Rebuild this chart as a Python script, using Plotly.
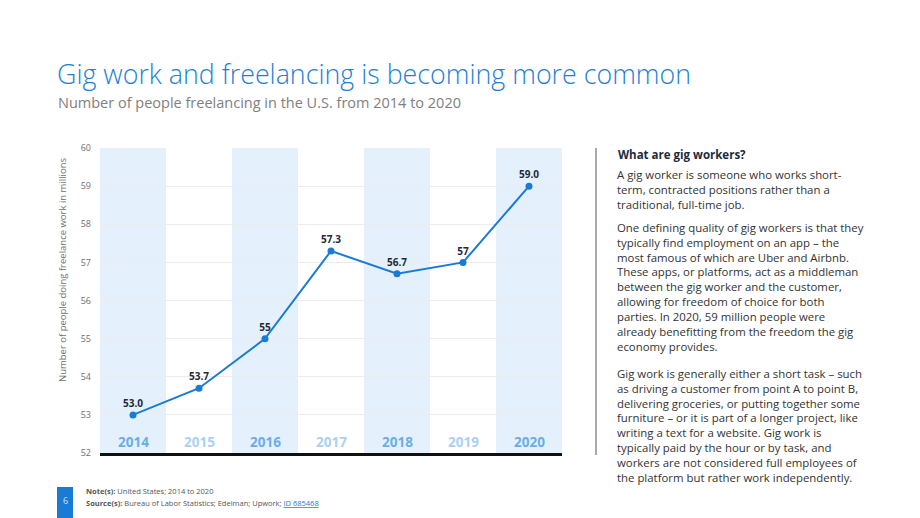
import plotly.graph_objects as go

years = ["2014", "2015", "2016", "2017", "2018", "2019", "2020"]
values = [53.0, 53.7, 55.0, 57.3, 56.7, 57.0, 59.0]
value_labels = ["53.0", "53.7", "55", "57.3", "56.7", "57", "59.0"]
y_ticks = [52, 53, 54, 55, 56, 57, 58, 59, 60]

W, H = 920, 518
def px(x): return x / W
def py(y): return 1 - y / H

FONT = "Open Sans"
BLUE = "#1a7bd5"

fig = go.Figure()
xs = list(range(len(years)))
fig.add_trace(go.Scatter(
    x=xs, y=values, mode="lines+markers+text",
    line=dict(color=BLUE, width=2),
    marker=dict(color=BLUE, size=7),
    text=value_labels, textposition="top center",
    textfont=dict(family=FONT, size=10, color="#1c2b3b", weight="bold"),
    hoverinfo="skip", showlegend=False, cliponaxis=False,
))

shapes = []
for i in range(len(years)):
    if i % 2 == 0:
        shapes.append(dict(type="rect", xref="x", yref="y", x0=i - 0.5, x1=i + 0.5,
                           y0=52, y1=60, fillcolor="#e4f1fc", line=dict(width=0), layer="below"))
# separator line
shapes.append(dict(type="line", xref="paper", yref="paper", x0=px(596), x1=px(596),
                   y0=py(148), y1=py(455), line=dict(color="#555555", width=1)))
# page number box
shapes.append(dict(type="rect", xref="paper", yref="paper", x0=px(57), x1=px(73),
                   y0=py(518), y1=py(487), fillcolor="#1a7bd5", line=dict(width=0)))

annotations = []
for i, yr in enumerate(years):
    annotations.append(dict(x=i, y=52.3, xref="x", yref="y", text=yr, showarrow=False,
                            font=dict(family=FONT, size=13.5, weight="bold",
                                      color="#6aaee9" if i % 2 == 0 else "#a9d1f4")))

annotations += [
    dict(x=px(55), y=py(74), xref="paper", yref="paper", xanchor="left", yanchor="middle",
         text="Gig work and freelancing is becoming more common", showarrow=False,
         font=dict(family=FONT, size=26.8, color="#1f7fd6", weight=300)),
    dict(x=px(56), y=py(102), xref="paper", yref="paper", xanchor="left", yanchor="middle",
         text="Number of people freelancing in the U.S. from 2014 to 2020", showarrow=False,
         font=dict(family=FONT, size=14.5, color="#808080")),
    dict(x=px(62), y=py(270), xref="paper", yref="paper", xanchor="center", yanchor="middle",
         text="Number of people doing freelance work in millions", showarrow=False, textangle=-90,
         font=dict(family=FONT, size=9.5, color="#707070")),
    dict(x=px(616), y=py(154), xref="paper", yref="paper", xanchor="left", yanchor="middle",
         text="<b>What are gig workers?</b>", showarrow=False,
         font=dict(family=FONT, size=11.5, color="#1c2b3b")),
]

paras = [
    (165, "A gig worker is someone who works short-<br>term, contracted positions rather than a<br>traditional, full-time job."),
    (218, "One defining quality of gig workers is that they<br>typically find employment on an app – the<br>most famous of which are Uber and Airbnb.<br>These apps, or platforms, act as a middleman<br>between the gig worker and the customer,<br>allowing for freedom of choice for both<br>parties. In 2020, 59 million people were<br>already benefitting from the freedom the gig<br>economy provides."),
    (364, "Gig work is generally either a short task – such<br>as driving a customer from point A to point B,<br>delivering groceries, or putting together some<br>furniture – or it is part of a longer project, like<br>writing a text for a website. Gig work is<br>typically paid by the hour or by task, and<br>workers are not considered full employees of<br>the platform but rather work independently."),
]
for top, txt in paras:
    annotations.append(dict(x=px(615), y=py(top), xref="paper", yref="paper", xanchor="left",
                            yanchor="top", align="left", text=txt, showarrow=False,
                            font=dict(family=FONT, size=11.4, color="#333333")))

annotations += [
    dict(x=px(65), y=py(500), xref="paper", yref="paper", xanchor="center", yanchor="middle",
         text="6", showarrow=False, font=dict(family=FONT, size=9, color="#cfe6fb")),
    dict(x=px(84), y=py(491), xref="paper", yref="paper", xanchor="left", yanchor="middle",
         text="<b>Note(s):</b> United States; 2014 to 2020", showarrow=False,
         font=dict(family=FONT, size=7.5, color="#555555")),
    dict(x=px(84), y=py(503), xref="paper", yref="paper", xanchor="left", yanchor="middle",
         text="<b>Source(s):</b> Bureau of Labor Statistics; Edelman; Upwork; <span style='color:#1a7bd5'><u>ID 685468</u></span>",
         showarrow=False, font=dict(family=FONT, size=7.5, color="#555555")),
]

fig.update_layout(
    width=W, height=H, margin=dict(l=0, r=0, t=0, b=0, autoexpand=False),
    paper_bgcolor="white", plot_bgcolor="white",
    shapes=shapes, annotations=annotations,
    xaxis=dict(domain=[px(100), px(562)], range=[-0.5, 6.5], showticklabels=False,
               showgrid=False, zeroline=False, showline=True, linecolor="#111111",
               linewidth=2.5, fixedrange=True),
    yaxis=dict(domain=[py(453), py(148)], range=[52, 60], tickvals=y_ticks,
               showgrid=True, gridcolor="#ececec", gridwidth=1, zeroline=False,
               tickfont=dict(family=FONT, size=9, color="#707070"), ticks="",
               ticklabelstandoff=8, layer="below traces"),
)

fig.write_html("out.html")
